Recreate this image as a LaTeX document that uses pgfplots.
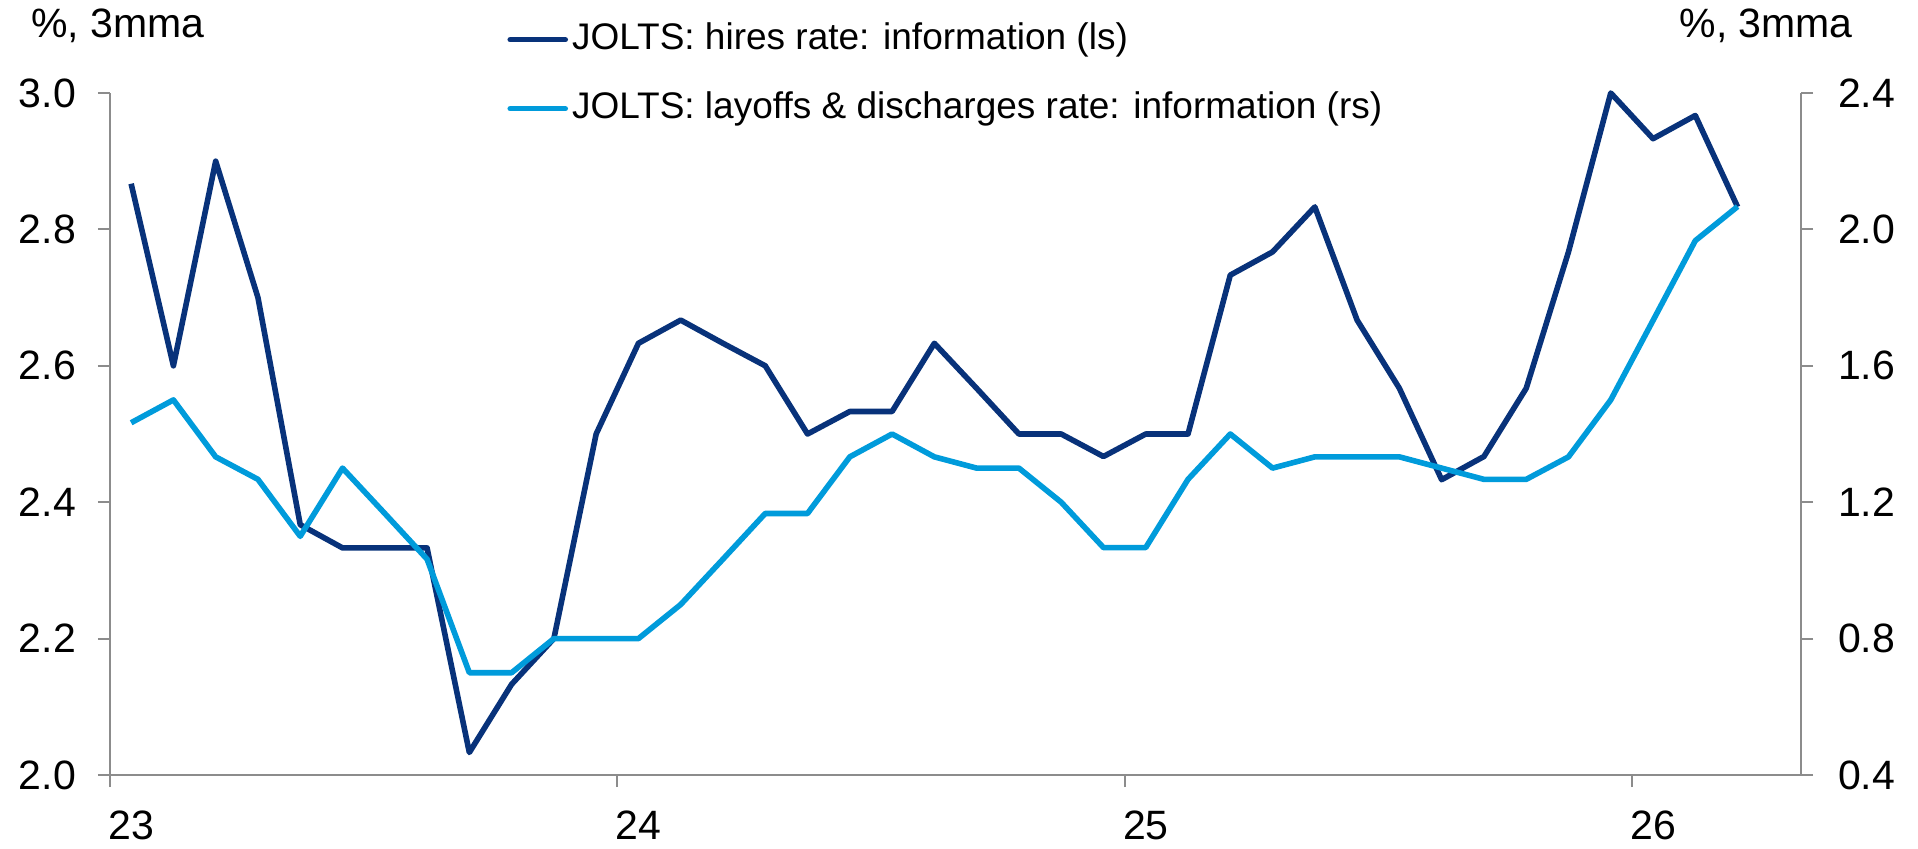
\documentclass[border=0pt]{standalone}
\usepackage{fontspec}
\setmainfont{Liberation Sans}
\usepackage{pgfplots}
\usepackage{pgfplotstable}
\pgfplotsset{compat=1.18}
\definecolor{navy}{HTML}{08327A}
\definecolor{lblue}{HTML}{009BDB}
\definecolor{axgray}{HTML}{8C8C8C}

\pgfplotstableread{
x y
0.5 2.867
1.5 2.6
2.5 2.9
3.5 2.7
4.5 2.367
5.5 2.333
6.5 2.333
7.5 2.333
8.5 2.033
9.5 2.133
10.5 2.2
11.5 2.5
12.5 2.633
13.5 2.667
14.5 2.633
15.5 2.6
16.5 2.5
17.5 2.533
18.5 2.533
19.5 2.633
20.5 2.567
21.5 2.5
22.5 2.5
23.5 2.467
24.5 2.5
25.5 2.5
26.5 2.733
27.5 2.767
28.5 2.833
29.5 2.667
30.5 2.567
31.5 2.433
32.5 2.467
33.5 2.567
34.5 2.767
35.5 3.0
36.5 2.933
37.5 2.967
38.5 2.833
}\hires

\pgfplotstableread{
x y
0.5 1.433
1.5 1.5
2.5 1.333
3.5 1.267
4.5 1.1
5.5 1.3
6.5 1.167
7.5 1.033
8.5 0.7
9.5 0.7
10.5 0.8
11.5 0.8
12.5 0.8
13.5 0.9
14.5 1.033
15.5 1.167
16.5 1.167
17.5 1.333
18.5 1.4
19.5 1.333
20.5 1.3
21.5 1.3
22.5 1.2
23.5 1.067
24.5 1.067
25.5 1.267
26.5 1.4
27.5 1.3
28.5 1.333
29.5 1.333
30.5 1.333
31.5 1.3
32.5 1.267
33.5 1.267
34.5 1.333
35.5 1.5
36.5 1.733
37.5 1.967
38.5 2.067
}\layoffs

\pgfplotsset{
  common/.style={
    scale only axis, width=845.5pt, height=341pt,
    xmin=0, xmax=40,
    clip=false,
    tick align=outside,
    major tick length=6pt,
    tick style={axgray, line width=1pt},
    axis line style={axgray, line width=1.1pt, -},
    ticklabel style={font=\fontsize{20.5}{24}\selectfont},
    /pgf/number format/assume math mode=true,
    yticklabel style={/pgf/number format/fixed, /pgf/number format/fixed zerofill, /pgf/number format/precision=1},
  }
}

\begin{document}
\begin{tikzpicture}
\begin{axis}[common, name=ax,
  ymin=2.0, ymax=3.0, ytick={2,2.2,2.4,2.6,2.8,3},
  axis x line*=bottom, axis y line*=left,
  xtick={0,12,24,36}, xticklabels={23,24,25,26},
  xticklabel style={anchor=north west, inner sep=0pt, xshift=-1pt, yshift=-11.5pt},
  yticklabel style={xshift=-7.5pt},
]
\addplot[navy, line width=2.8pt, line join=round] table[x=x,y=y] {\hires};
\node[anchor=west, font=\fontsize{20.5}{24}\selectfont, inner sep=0pt] at (rel axis cs:-0.0467,1.098) {\%, 3mma};
\node[anchor=east, font=\fontsize{20.5}{24}\selectfont, inner sep=0pt] at (rel axis cs:1.0308,1.098) {\%, 3mma};
\end{axis}
\begin{axis}[common,
  ymin=0.4, ymax=2.4, ytick={0.4,0.8,1.2,1.6,2.0,2.4},
  axis y line*=right, axis x line=none,
  yticklabel style={xshift=9pt},
  legend cell align=left,
  legend image code/.code={\draw[#1, line width=2.8pt, line cap=round] (0pt,0pt) -- (27.5pt,0pt);},
  legend style={draw=none, fill=none, inner sep=0pt, at={(rel axis cs:0.2348,1.103)}, anchor=north west,
    font=\fontsize{18.5}{22}\selectfont, row sep=18pt, column sep=2pt,
    nodes={inner sep=0pt, text height=13pt, text depth=3.5pt}},
]
\addlegendimage{navy}
\addlegendentry{JOLTS: hires rate: information (ls)}
\addplot[lblue, line width=2.8pt, line join=round] table[x=x,y=y] {\layoffs};
\addlegendentry{JOLTS: layoffs \& discharges rate: information (rs)}
\end{axis}
\pgfresetboundingbox
\useasboundingbox (ax.south west) ++(-55pt,-36.5pt) rectangle ++(959pt,424pt);
\end{tikzpicture}
\end{document}
